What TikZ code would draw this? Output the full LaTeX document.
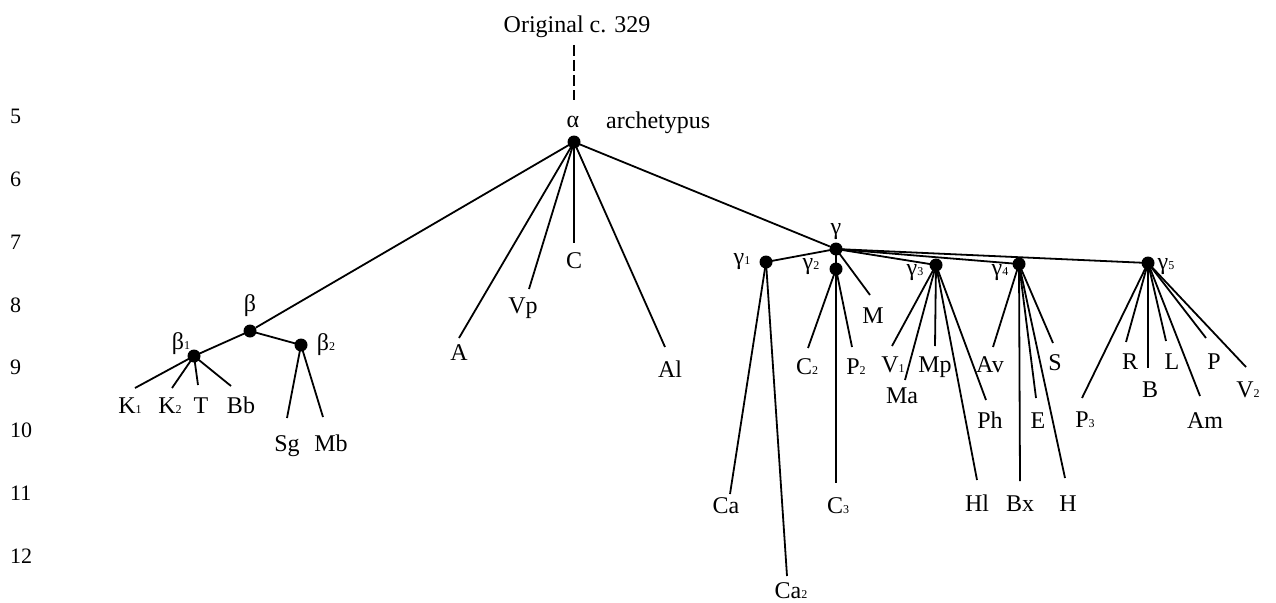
\documentclass[tikz,border=0pt]{standalone}
\usepackage{fontspec}
\setmainfont{Liberation Serif}
\newcommand{\ssub}[1]{{\fontsize{12}{12}\selectfont #1}}
\begin{document}
\begin{tikzpicture}[x=1pt,y=-1pt,
  dot/.style={circle,fill,inner sep=0pt,minimum size=13pt},
  lbl/.style={font=\fontsize{24}{24}\selectfont,inner sep=0pt,anchor=base},
  glbl/.style={font=\fontsize{24}{24}\selectfont,inner sep=0pt,anchor=center},
  num/.style={font=\fontsize{22}{22}\selectfont,inner sep=0pt,anchor=base west},
  edge/.style={line width=1.8pt}]
\useasboundingbox (0,0) rectangle (1276,602);

% line numbers
\foreach \n/\y in {5/123,6/186,7/249,8/312,9/374,10/437,11/500,12/563}
  \node[num] (num\n) at (10,\y) {\n};

% top
\node[lbl] (orig) at (577,33) {Original c. 329};
\coordinate (dtop) at (574,45);
\coordinate (dbot) at (574,100);
\draw[edge,dash pattern=on 11pt off 4pt] (dtop) -- (dbot);
\node[lbl] (alab) at (573,127) {α};
\node[lbl,anchor=base west] (arch) at (606,128) {archetypus};

% dots
\node[dot] (alpha) at (574,142) {};
\node[dot] (beta) at (250,331) {};
\node[dot] (b1) at (194,356) {};
\node[dot] (b2) at (301,345) {};
\node[dot] (gamma) at (836,249) {};
\node[dot] (g1) at (766,262) {};
\node[dot] (g2) at (836,269) {};
\node[dot] (g3) at (936,265) {};
\node[dot] (g4) at (1019,264) {};
\node[dot] (g5) at (1148,263) {};

% greek labels
\node[glbl] (lbeta) at (250,306) {β};
\node[glbl] (lb1) at (181,344) {β\ssub{1}};
\node[glbl] (lb2) at (326,345) {β\ssub{2}};
\node[glbl] (lgamma) at (836,232) {γ};
\node[glbl] (lg1) at (742,262) {γ\ssub{1}};
\node[glbl] (lg2) at (811,267) {γ\ssub{2}};
\node[glbl] (lg3) at (915,273) {γ\ssub{3}};
\node[glbl] (lg4) at (1000,273) {γ\ssub{4}};
\node[glbl] (lg5) at (1166,267) {γ\ssub{5}};

% leaf ends
\foreach \c/\x/\y in {K1e/135/388,K2e/172/388,Te/198/385,Bbe/231/386,
  Sge/287/418,Mbe/323/417,Ae/459/338,Vpe/529/289,Ce/574/243,Ale/665/347,
  Cae/730/494,Ca2e/787/576,C2e/808/348,P2e/852/347,C3e/836/483,Me/870/295,
  V1e/892/346,Mae/905/380,Mpe/935/346,Phe/986/400,Hle/977/480,
  Ave/993/347,Bxe/1020/481,Ee/1036/398,He/1065/478,Se/1053/343,
  P3e/1082/398,Re/1126/342,Be/1148/368,Le/1166/341,Ame/1200/396,Pe/1206/338,V2e/1246/367}
  \coordinate (\c) at (\x,\y);

% leaf labels
\node[lbl] (K1) at (130,413) {K\ssub{1}};
\node[lbl] (K2) at (170,413) {K\ssub{2}};
\node[lbl] (T) at (201,413) {T};
\node[lbl] (Bb) at (241,413) {Bb};
\node[lbl] (Sg) at (287,451) {Sg};
\node[lbl] (Mb) at (331,451) {Mb};
\node[lbl] (A) at (459,360) {A};
\node[lbl] (Vp) at (523,313) {Vp};
\node[lbl] (C) at (574,268) {C};
\node[lbl] (Al) at (670,377) {Al};
\node[lbl] (Ca) at (726,513) {Ca};
\node[lbl] (Ca2) at (791,598) {Ca\ssub{2}};
\node[lbl] (C3) at (838,513) {C\ssub{3}};
\node[lbl] (C2) at (807,374) {C\ssub{2}};
\node[lbl] (P2) at (856,374) {P\ssub{2}};
\node[lbl] (M) at (873,323) {M};
\node[lbl] (V1) at (893,372) {V\ssub{1}};
\node[lbl] (Ma) at (902,403) {Ma};
\node[lbl] (Mp) at (935,372) {Mp};
\node[lbl] (Ph) at (990,428) {Ph};
\node[lbl] (Hl) at (977,511) {Hl};
\node[lbl] (Av) at (990,372) {Av};
\node[lbl] (Bx) at (1020,511) {Bx};
\node[lbl] (E) at (1038,428) {E};
\node[lbl] (H) at (1068,511) {H};
\node[lbl] (S) at (1055,370) {S};
\node[lbl] (P3) at (1085,427) {P\ssub{3}};
\node[lbl] (R) at (1130,369) {R};
\node[lbl] (B) at (1150,397) {B};
\node[lbl] (L) at (1172,369) {L};
\node[lbl] (Am) at (1205,428) {Am};
\node[lbl] (P) at (1214,369) {P};
\node[lbl] (V2) at (1248,397) {V\ssub{2}};

% edges
\foreach \t in {beta,Ae,Vpe,Ce,Ale,gamma} \draw[edge] (alpha.center) -- (\t);
\foreach \t in {b1,b2} \draw[edge] (beta.center) -- (\t.center);
\foreach \t in {K1e,K2e,Te,Bbe} \draw[edge] (b1.center) -- (\t);
\foreach \t in {Sge,Mbe} \draw[edge] (b2.center) -- (\t);
\foreach \t in {g1,g2,g3,g4,g5} \draw[edge] (gamma.center) -- (\t.center);
\draw[edge] (gamma.center) -- (Me);
\foreach \t in {Cae,Ca2e} \draw[edge] (g1.center) -- (\t);
\foreach \t in {C2e,P2e,C3e} \draw[edge] (g2.center) -- (\t);
\foreach \t in {V1e,Mae,Mpe,Phe,Hle} \draw[edge] (g3.center) -- (\t);
\foreach \t in {Ave,Bxe,Ee,He,Se} \draw[edge] (g4.center) -- (\t);
\foreach \t in {P3e,Re,Be,Le,Ame,Pe,V2e} \draw[edge] (g5.center) -- (\t);
\end{tikzpicture}
\end{document}
